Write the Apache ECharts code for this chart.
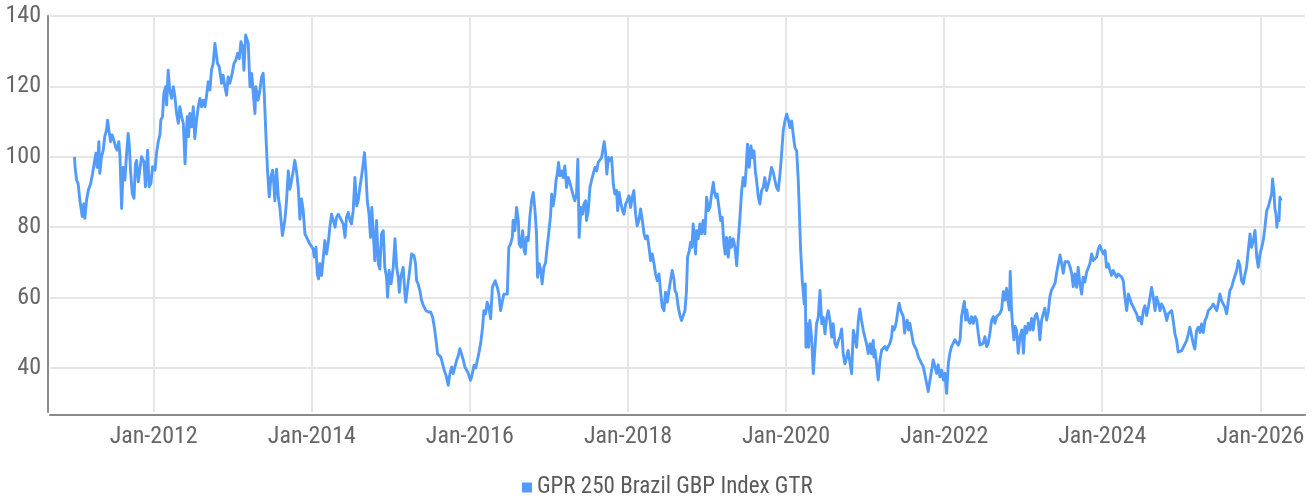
<!DOCTYPE html>
<html>
<head>
<meta charset="utf-8">
<script src="https://cdn.jsdelivr.net/npm/echarts@6/dist/echarts.min.js"></script>
<style>
html,body{margin:0;padding:0;background:#fff;}
#chart{width:1315px;height:500px;}
</style>
</head>
<body>
<div id="chart"></div>
<script>
const seriesName = 'GPR 250 Brazil GBP Index GTR';
const yTickValues = [40, 60, 80, 100, 120, 140];
const xTickDates = ['2012-01-01','2014-01-01','2016-01-01','2018-01-01','2020-01-01','2022-01-01','2024-01-01','2026-01-01'];
const xRange = ['2010-09-09', '2026-07-26'];
const yRange = [27.5, 140];

const dates = [
'2010-12-31','2011-01-03','2011-01-10','2011-01-17','2011-01-25','2011-02-05','2011-02-12','2011-02-17','2011-02-25','2011-03-05',
'2011-03-16','2011-03-25','2011-04-01','2011-04-09','2011-04-15','2011-04-23','2011-04-27','2011-05-05','2011-05-13','2011-05-20',
'2011-05-28','2011-06-02','2011-06-08','2011-06-16','2011-06-23','2011-07-01','2011-07-09','2011-07-16','2011-07-24','2011-07-29',
'2011-08-06','2011-08-13','2011-08-21','2011-08-29','2011-09-05','2011-09-10','2011-09-16','2011-09-24','2011-10-02','2011-10-09',
'2011-10-14','2011-10-22','2011-10-29','2011-11-06','2011-11-17','2011-11-24','2011-12-04','2011-12-11','2011-12-19','2011-12-27',
'2012-01-07','2012-01-14','2012-01-22','2012-01-30','2012-02-03','2012-02-11','2012-02-17','2012-02-25','2012-03-01','2012-03-08',
'2012-03-15','2012-03-24','2012-04-01','2012-04-08','2012-04-16','2012-04-24','2012-05-01','2012-05-09','2012-05-17','2012-05-25',
'2012-05-30','2012-06-04','2012-06-10','2012-06-16','2012-06-24','2012-07-02','2012-07-09','2012-07-17','2012-07-25','2012-08-02',
'2012-08-09','2012-08-17','2012-08-25','2012-09-01','2012-09-09','2012-09-17','2012-09-24','2012-10-02','2012-10-10','2012-10-18',
'2012-10-22','2012-10-30','2012-11-10','2012-11-17','2012-11-25','2012-12-03','2012-12-10','2012-12-18','2012-12-29','2013-01-06',
'2013-01-15','2013-01-23','2013-01-31','2013-02-07','2013-02-15','2013-02-21','2013-03-01','2013-03-05','2013-03-13','2013-03-21',
'2013-03-29','2013-04-05','2013-04-13','2013-04-17','2013-04-28','2013-05-06','2013-05-14','2013-05-21','2013-05-26','2013-06-03',
'2013-06-10','2013-06-18','2013-06-26','2013-07-04','2013-07-10',
'2013-07-14','2013-07-22','2013-07-30','2013-08-06','2013-08-18','2013-08-29','2013-09-06','2013-09-14','2013-09-21','2013-09-29',
'2013-10-07','2013-10-14','2013-10-22','2013-10-30','2013-11-07','2013-11-14','2013-11-22','2013-11-30','2013-12-07','2013-12-15',
'2013-12-23','2013-12-30','2014-01-07','2014-01-12','2014-01-20','2014-01-26','2014-02-01','2014-02-07','2014-02-15','2014-02-23',
'2014-03-02','2014-03-10','2014-03-18','2014-03-25','2014-04-02','2014-04-10','2014-04-18','2014-04-25','2014-05-03','2014-05-11',
'2014-05-18','2014-05-26','2014-06-03','2014-06-10','2014-06-18','2014-06-26','2014-07-03','2014-07-11','2014-07-19','2014-07-27',
'2014-08-03','2014-08-11','2014-08-19','2014-08-26','2014-09-01','2014-09-08','2014-09-14','2014-09-22','2014-09-29','2014-10-05',
'2014-10-11','2014-10-19','2014-10-27','2014-11-04','2014-11-11','2014-11-19','2014-11-27','2014-12-04','2014-12-12','2014-12-17',
'2014-12-24','2015-01-02','2015-01-12','2015-01-20','2015-01-28','2015-02-04','2015-02-09','2015-02-16','2015-02-27','2015-03-07',
'2015-03-11','2015-03-19','2015-03-27','2015-04-07','2015-04-18','2015-04-25','2015-04-30','2015-05-07','2015-05-15','2015-05-23',
'2015-05-31','2015-06-12','2015-06-23','2015-07-04','2015-07-13','2015-07-21','2015-07-29','2015-08-05','2015-08-13','2015-08-20',
'2015-08-28','2015-09-05','2015-09-13','2015-09-23','2015-10-01','2015-10-09','2015-10-16','2015-10-24','2015-11-01','2015-11-09',
'2015-11-16','2015-11-24','2015-12-02','2015-12-09','2015-12-17','2015-12-25','2016-01-04','2016-01-09','2016-01-20',
'2016-01-28','2016-02-11','2016-02-20',
'2016-02-29','2016-03-06','2016-03-14','2016-03-21','2016-03-29','2016-04-06','2016-04-14','2016-04-21','2016-04-27','2016-05-07',
'2016-05-14','2016-05-22','2016-05-30','2016-06-06','2016-06-14','2016-06-22','2016-06-29','2016-07-07','2016-07-15','2016-07-19',
'2016-07-27','2016-08-04','2016-08-12','2016-08-16','2016-08-24','2016-09-01','2016-09-08','2016-09-13','2016-09-19','2016-09-27',
'2016-10-04','2016-10-12','2016-10-20','2016-10-28','2016-11-04','2016-11-09','2016-11-17','2016-11-24','2016-11-30','2016-12-08',
'2016-12-16','2016-12-23','2016-12-30','2017-01-08','2017-01-13','2017-01-20','2017-01-28','2017-02-02','2017-02-08','2017-02-14',
'2017-02-20','2017-02-28','2017-03-07','2017-03-15','2017-03-23','2017-03-31','2017-04-07','2017-04-15','2017-04-23','2017-04-30',
'2017-05-08','2017-05-14','2017-05-20','2017-05-28','2017-06-05','2017-06-11','2017-06-19','2017-06-23','2017-07-01','2017-07-09',
'2017-07-16','2017-07-24','2017-08-01','2017-08-09','2017-08-16','2017-08-24','2017-09-01','2017-09-08','2017-09-13','2017-09-19',
'2017-09-25','2017-10-02','2017-10-09','2017-10-17','2017-10-25','2017-11-01','2017-11-09','2017-11-14','2017-11-21','2017-11-29',
'2017-12-07','2017-12-13','2017-12-21','2017-12-28','2018-01-05','2018-01-13','2018-01-20','2018-01-28','2018-02-05','2018-02-12',
'2018-02-20','2018-02-28','2018-03-08','2018-03-16','2018-03-23','2018-03-31','2018-04-08','2018-04-15','2018-04-23','2018-05-01',
'2018-05-08','2018-05-16','2018-05-24','2018-05-31','2018-06-08','2018-06-16','2018-06-23','2018-07-01','2018-07-09','2018-07-16',
'2018-07-24','2018-08-01',
'2018-08-06','2018-08-13','2018-08-21','2018-08-29','2018-09-05','2018-09-13','2018-09-21','2018-09-28','2018-10-03','2018-10-11',
'2018-10-17','2018-10-23','2018-10-29','2018-11-03','2018-11-09','2018-11-14','2018-11-21','2018-11-29','2018-12-07','2018-12-14',
'2018-12-22','2018-12-30','2019-01-07','2019-01-14','2019-01-22','2019-01-30','2019-02-03','2019-02-11','2019-02-17','2019-02-25',
'2019-03-05','2019-03-12','2019-03-20','2019-03-26','2019-04-01','2019-04-09','2019-04-17','2019-04-24','2019-05-02','2019-05-10',
'2019-05-18','2019-05-25','2019-06-02','2019-06-10','2019-06-17','2019-06-25','2019-06-30','2019-07-07','2019-07-15','2019-07-23',
'2019-07-30','2019-08-06','2019-08-12','2019-08-18','2019-08-26','2019-09-02','2019-09-10','2019-09-18','2019-09-25','2019-10-03',
'2019-10-11','2019-10-18','2019-10-26','2019-11-03','2019-11-11','2019-11-18','2019-11-26','2019-12-04','2019-12-11','2019-12-19',
'2019-12-27','2020-01-04','2020-01-11','2020-01-19','2020-01-27','2020-02-03','2020-02-11','2020-02-19','2020-02-26','2020-03-02',
'2020-03-08','2020-03-16','2020-03-20','2020-03-25','2020-03-30','2020-04-02','2020-04-08','2020-04-14','2020-04-20','2020-04-28',
'2020-05-06','2020-05-14','2020-05-21','2020-05-29','2020-06-06','2020-06-14','2020-06-21','2020-06-29','2020-07-07','2020-07-14',
'2020-07-22','2020-07-30','2020-08-06','2020-08-14','2020-08-22','2020-08-30','2020-09-06','2020-09-14','2020-09-21','2020-09-29',
'2020-10-07','2020-10-14','2020-10-22','2020-10-30','2020-11-07','2020-11-14','2020-11-22','2020-11-30','2020-12-07','2020-12-15',
'2020-12-23','2020-12-30','2021-01-07','2021-01-15','2021-01-23','2021-01-30','2021-02-07','2021-02-10',
'2021-02-15','2021-02-22','2021-03-02','2021-03-10','2021-03-18','2021-03-25','2021-04-02','2021-04-10','2021-04-17','2021-04-25',
'2021-05-03','2021-05-07','2021-05-14','2021-05-20','2021-05-26','2021-06-03','2021-06-07','2021-06-13','2021-06-20','2021-06-26',
'2021-07-02','2021-07-08','2021-07-14','2021-07-20','2021-07-26','2021-08-03','2021-08-11','2021-08-18','2021-08-26','2021-09-03',
'2021-09-11','2021-09-18','2021-09-26','2021-10-04','2021-10-11','2021-10-19','2021-10-27','2021-11-04','2021-11-11','2021-11-19',
'2021-11-27','2021-12-04','2021-12-12','2021-12-20','2021-12-28','2022-01-04','2022-01-12','2022-01-20','2022-01-27','2022-02-04',
'2022-02-12','2022-02-19','2022-02-27','2022-03-07','2022-03-15','2022-03-22','2022-03-30','2022-04-04','2022-04-10','2022-04-15',
'2022-04-22','2022-04-30','2022-05-07','2022-05-15','2022-05-23','2022-05-31','2022-06-07','2022-06-15','2022-06-23','2022-06-30',
'2022-07-08','2022-07-16','2022-07-23','2022-07-31','2022-08-08','2022-08-16','2022-08-23','2022-08-31','2022-09-08','2022-09-15',
'2022-09-23','2022-10-01','2022-10-08','2022-10-16','2022-10-22','2022-10-29','2022-11-02','2022-11-08','2022-11-13','2022-11-19',
'2022-11-25','2022-12-01','2022-12-09','2022-12-17','2022-12-26','2023-01-02','2023-01-09','2023-01-17','2023-01-24','2023-02-01',
'2023-02-09','2023-02-16','2023-02-24','2023-03-04','2023-03-12','2023-03-19','2023-03-27','2023-04-04','2023-04-11','2023-04-19',
'2023-04-27','2023-05-04','2023-05-12','2023-05-20','2023-05-28','2023-06-04','2023-06-12','2023-06-20','2023-06-27','2023-07-05',
'2023-07-13','2023-07-20','2023-07-28','2023-08-05','2023-08-13','2023-08-20',
'2023-08-28','2023-09-05','2023-09-12','2023-09-20','2023-09-28','2023-10-05','2023-10-13','2023-10-21','2023-10-29','2023-11-05',
'2023-11-13','2023-11-21','2023-11-28','2023-12-06','2023-12-14','2023-12-21','2023-12-29','2024-01-06','2024-01-14','2024-01-21',
'2024-01-29','2024-02-06','2024-02-13','2024-02-21','2024-02-29','2024-03-07','2024-03-15','2024-03-23','2024-03-31','2024-04-07',
'2024-04-15','2024-04-23','2024-05-01','2024-05-08','2024-05-16','2024-05-24','2024-05-31','2024-06-08','2024-06-16','2024-06-23',
'2024-07-01','2024-07-09','2024-07-16','2024-07-24','2024-08-01','2024-08-09','2024-08-16','2024-08-24','2024-09-01','2024-09-08',
'2024-09-16','2024-09-24','2024-10-01','2024-10-09','2024-10-17','2024-10-25','2024-11-01','2024-11-09','2024-11-17','2024-11-24',
'2024-12-02','2024-12-10','2024-12-17','2024-12-26','2025-01-02','2025-01-10','2025-01-17','2025-01-25','2025-02-02','2025-02-09',
'2025-02-17','2025-02-25','2025-03-04','2025-03-12','2025-03-20','2025-03-28','2025-04-04','2025-04-12','2025-04-20','2025-04-27',
'2025-05-05','2025-05-13','2025-05-20','2025-05-28','2025-06-05','2025-06-13','2025-06-20','2025-06-28','2025-07-06','2025-07-13',
'2025-07-21','2025-07-29','2025-08-06','2025-08-13','2025-08-21','2025-08-29','2025-09-05','2025-09-13','2025-09-21','2025-09-28',
'2025-10-06','2025-10-14','2025-10-22','2025-10-29','2025-11-06','2025-11-14','2025-11-21','2025-11-29','2025-12-07','2025-12-15',
'2025-12-22','2025-12-30','2026-01-07','2026-01-14','2026-01-22','2026-01-30','2026-02-06','2026-02-14','2026-02-22','2026-02-26',
'2026-03-05','2026-03-09','2026-03-14','2026-03-18','2026-03-23','2026-03-28','2026-04-01','2026-04-07'
];

const values = [
100,97,93.4,92.4,87.7,83,86.7,82.5,87.7,90.5,
92.4,95.3,98,101,97,104.3,95.3,100,101.9,105.7,
107.6,110.4,107.6,104.3,106.2,104.7,102.8,101.9,104.3,100.5,
85.3,97,93.4,101,106.6,103.8,96.2,89.6,88.2,98,
99,92.9,96.2,100,98.6,91.5,101.9,91.5,92.4,97.2,
96.2,101,104.3,106.2,110.4,111.4,118,119.9,114.7,124.6,
119,116.6,119.9,117.1,112.3,109.5,114.2,111.4,109.5,98,
105.7,111.4,105.7,112.3,108.5,114.2,105.2,110.4,114.2,116.6,
114.2,116.1,114.2,117.1,121.3,119,124.6,126.5,132.2,132.7,
126.5,125.6,120.9,123.2,119.9,117.5,122.7,120.9,123.7,126.5,
127.5,129.4,127.9,132.7,131.3,124.6,134.6,135.1,132.2,119.9,
123.7,118,112.3,119.9,116.1,119,122.7,123.7,118,105.7,
96.2,88.6,94.3,96.2,91.5,
87.5,96.5,88.5,85.6,77.6,81.9,87.5,96,90.8,93.2,
96,99,96,91.3,82.3,88,84.7,78.1,77.6,76.2,
75.2,74.8,73.8,71.5,74.3,66.7,65.3,69.6,66.3,71.5,
76.2,72.4,75.7,80,83.7,81.9,80,82.8,83.7,82.8,
81.9,80.9,77.1,82.8,84.2,81.9,80.9,84.7,94.1,86.1,
87.5,91.3,94.6,97.9,101.2,95.1,87.5,83.7,77.1,85.6,
86.1,70.5,81.9,69.6,68.1,78.1,79,68.6,65.8,60.1,
67.7,63.9,68.6,76.7,68.6,65.8,61.5,65.8,68.6,61.1,
58.7,62.9,66.7,72.4,71.9,69.6,64.8,63.9,62,59.2,
57.8,56.3,55.9,55.9,54.4,51.6,47.8,44,44.5,43.1,
41.2,39.3,37.9,35.1,38.4,40.3,38.4,40.3,42.2,43.6,
45.5,45,42.2,40.3,39.8,38.4,36.5,37.4,40.7,
40,44,47,
51.6,56.3,55.4,58.7,57.3,54,62.9,62.5,64.8,62.9,
61,56.3,55.9,61,60.6,61,74.3,75.2,77.1,81.9,
79,85.6,81.9,75.2,74.3,79,73.3,72.4,77.1,76.2,
82.8,87.5,89.9,84.7,78.1,65.8,69.6,67.7,63.9,68.6,
70,74.3,78.1,83.3,89.4,86.1,89.4,93.2,95.1,98.4,
94.6,96,94.1,97.4,91.3,94.1,92.7,93.2,88.9,87.5,
89.4,99.3,77.1,85.6,83.7,86.6,87.5,81.9,84.7,91.3,
93.2,93.7,97,96,98.4,97.9,99.8,102.6,104.3,101.2,
95.1,99.8,98.9,99.8,92.2,89.4,90.4,84.7,89.9,86.6,
84.7,83.7,86.6,87.5,88.9,85.6,88.5,90.4,83.7,80.4,
81.9,85.2,81.9,78.1,76.7,77.6,74.3,70.5,72.4,69.6,
66.7,64.8,66.7,62,57.3,56.3,61.5,58.7,62,64.8,
67.7,65.3,
62,61.1,57.3,54.9,53.5,53,56.3,62,71.5,73.3,
75.7,74.3,80.9,77.1,72.4,79,76.7,80.9,78.1,81.9,
78.1,88.5,84.7,85.6,89.4,92.7,90.4,88.5,89.4,85.6,
81.9,82.8,75.2,72.4,77.1,71.5,77.1,74.3,76.7,74.3,
69.1,76.2,82.8,90.4,94.1,91.7,96,103.6,97,103.1,
99.8,101.7,96,93.2,88.5,86.6,90.4,91.3,94.1,90.4,
92.2,94.1,97,95.6,93.2,91.3,90.4,95.1,100.3,107.4,
110.2,112.1,110.7,108.3,110.2,106.4,102.6,101.7,94.1,85.6,
74.3,64.8,62,58.2,63.9,45.9,52.6,45.9,53.5,48.8,
38.4,45.9,52.6,54.4,62,52.6,54.4,49.7,54.4,56.3,
53.5,48.8,52.6,46.9,45.9,47.8,48.8,51.1,44.1,41.2,
43.1,45,45,38.4,50.7,48.8,45.9,53.5,56.8,53.5,
50.7,48.8,46.9,44.1,46.9,44.1,47.8,43.1,
45.1,41.3,36.6,42.3,45.1,45.6,46.1,45.1,46.1,47,
48.9,51.8,50.8,51.8,53.6,57.4,58.4,56.5,57,54.6,
49.9,52.7,53.6,50.8,52.7,49.9,47,46.1,45.1,43.2,
43.2,41.3,40.4,38,37.5,33.3,36.6,39.4,42.3,40.4,
38.5,40.9,37.5,39.4,36.6,38.5,32.8,41.3,44.2,46.1,
45.6,48,48.4,46.5,48,54.6,57.4,58.9,53.6,56.5,
53.6,52.7,54.6,52.7,54.6,53.6,49.9,46.5,46.1,47,
48.9,46.1,47,49.9,53.6,54.6,52.7,54.6,54.1,55.5,
56.5,61.7,59.3,62.7,59.3,56.5,67.4,56.5,51.8,48,
51.8,50.8,44.2,48.9,50.8,44.2,51.8,49.9,52.7,50.8,
54.1,50.8,54.6,55.5,53.2,48,53.6,55.5,57,53.6,
56,60.3,62.2,63.1,64.1,66.9,66.9,72.1,69.8,66.9,
70.2,69.8,70.2,68.8,66.9,63.1,
66.7,62.9,68.6,63.9,61,65.8,64.4,67.2,66.7,69.6,
72.4,70.5,70,71.5,73.8,74.8,74.3,72.4,73.4,68.6,
69.6,67.7,66.3,67.7,68.2,65.8,66.7,66.3,65.8,64.8,
60.1,56.3,61,61,58.2,57.3,56.3,55.4,53.5,54.4,
52.5,56.3,57.7,54.9,57.3,60.1,62.9,60.1,56.3,60.1,
58.7,56.3,58.2,57.3,55.8,53.5,55.4,54.9,56.3,53.5,
49.7,47.8,44.5,44.9,44.9,45.9,45.9,47.8,49.7,51.6,
52,46.8,45.4,50.6,51.6,50.1,52.5,50.1,53.5,54.4,
56.3,56.3,57.3,58.2,57.3,56.3,58.2,61,59.1,58.2,
57.3,55.4,59.1,62,62.9,64.8,64.8,67.7,70.5,69.1,
64.8,63.9,66.7,68.6,73.4,78.1,74.3,76.2,79.1,71.5,
68.6,72.4,74.3,76.2,80,84.7,85.7,87.6,89.5,93.7,
89.5,85.2,83.8,80,82.8,81.9,88.5,87.6
];

const FONT = "'Liberation Sans Narrow', 'Roboto Condensed', 'DejaVu Sans Condensed', 'Liberation Sans', sans-serif";
function toTime(s) { const p = s.split('-'); return new Date(+p[0], +p[1] - 1, +p[2]).getTime(); }
const seriesData = dates.map((d, i) => [toTime(d), values[i]]);
const xTickTimes = xTickDates.map(toTime);

const chart = echarts.init(document.getElementById('chart'), null, {renderer: 'canvas'});
chart.setOption({
  animation: false,
  backgroundColor: '#ffffff',
  grid: {left: 50, right: 10, top: 16, bottom: 88, containLabel: false},
  legend: {
    data: [seriesName],
    left: 517, top: 471,
    icon: 'rect', itemWidth: 10, itemHeight: 10,
    textStyle: {fontFamily: FONT, fontSize: 23, color: '#5a5a5a'}
  },
  xAxis: {
    type: 'value',
    min: toTime(xRange[0]), max: toTime(xRange[1]),
    offset: 3,
    axisLine: {show: true, lineStyle: {color: '#8a8a8a', width: 2}},
    axisTick: {show: false, customValues: xTickTimes},
    axisLabel: {
      customValues: xTickTimes,
      fontFamily: FONT, fontSize: 24, color: '#666666', margin: 10,
      formatter: function (v) { return 'Jan-' + new Date(v).getFullYear(); }
    },
    splitLine: {show: true, lineStyle: {color: '#e6e6e6', width: 2}}
  },
  yAxis: {
    type: 'value',
    min: yRange[0], max: yRange[1],
    offset: 2,
    axisLine: {show: true, lineStyle: {color: '#8a8a8a', width: 2}},
    axisTick: {show: false, customValues: yTickValues},
    axisLabel: {customValues: yTickValues, fontFamily: FONT, fontSize: 24, color: '#666666', margin: 7},
    splitLine: {show: true, lineStyle: {color: '#e6e6e6', width: 2}}
  },
  series: [{
    name: seriesName,
    type: 'line',
    data: seriesData,
    showSymbol: false,
    symbol: 'none',
    color: '#529BFA',
    lineStyle: {color: '#529BFA', width: 2.9, join: 'round'},
    emphasis: {disabled: true}
  }]
});
</script>
</body>
</html>
